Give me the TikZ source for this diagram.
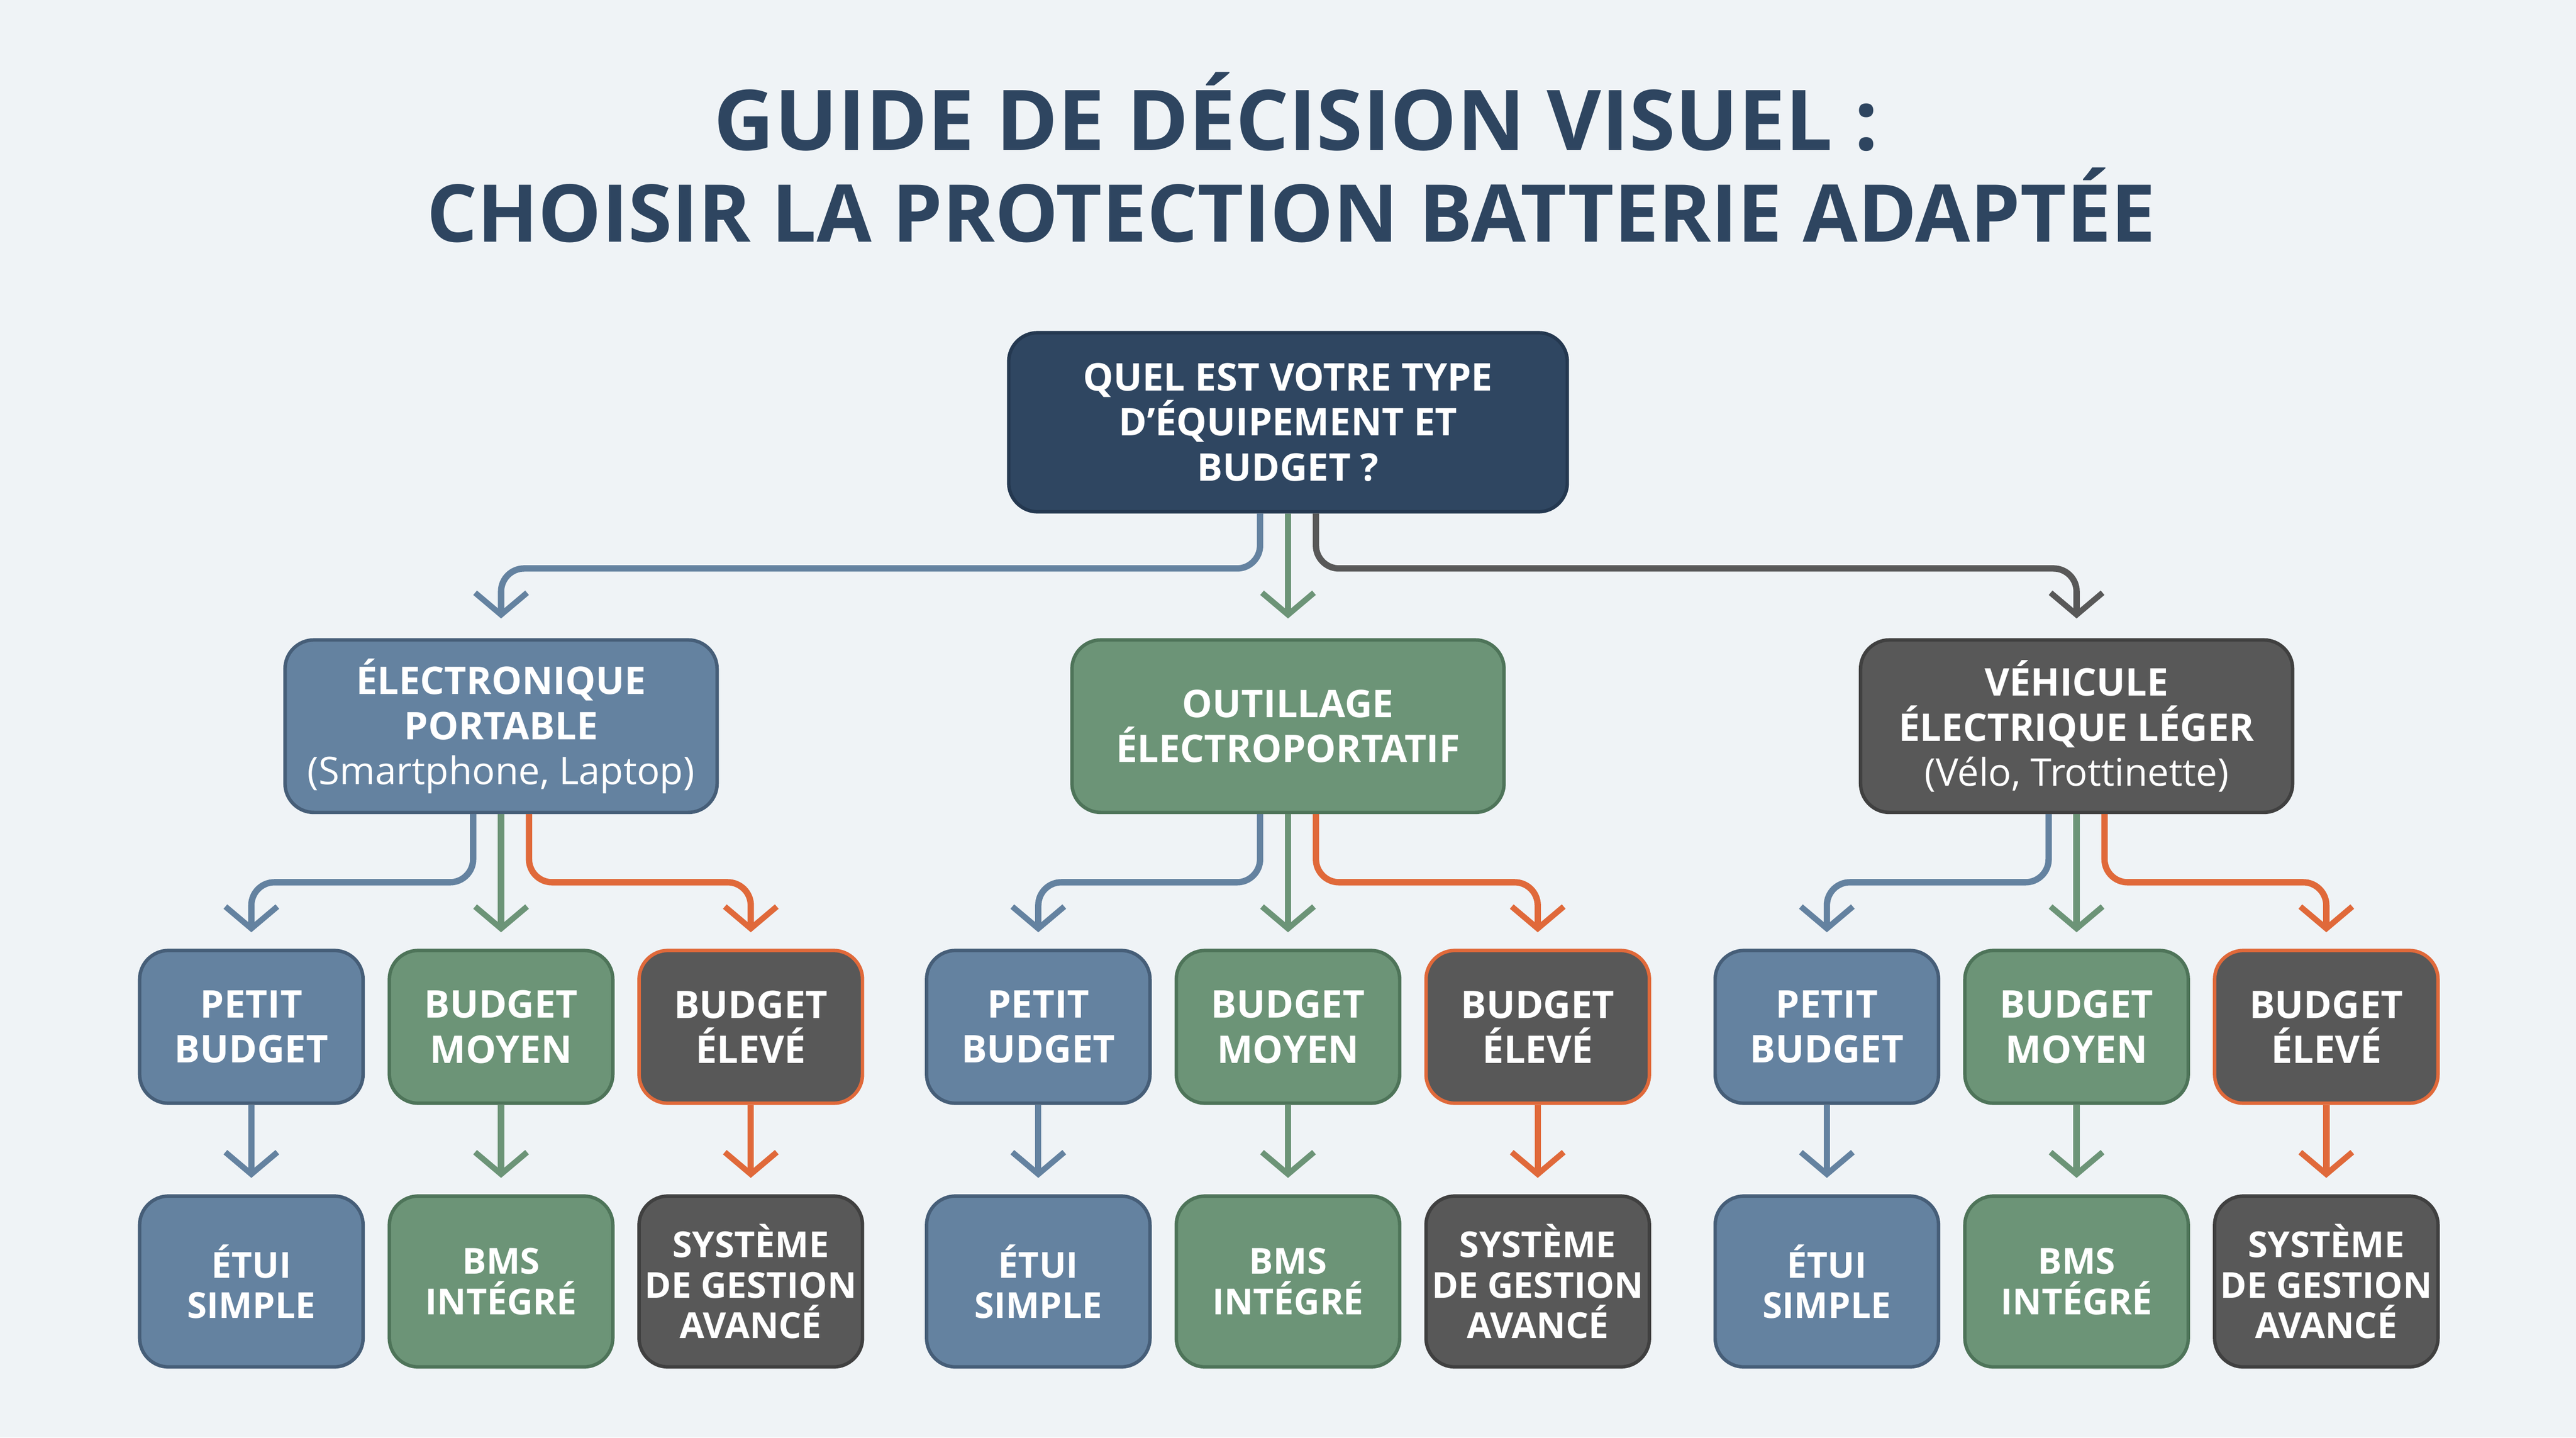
\documentclass[tikz,border=0pt]{standalone}
\usepackage{fontspec}
\setmainfont{Open Sans}
\usetikzlibrary{arrows.meta}
\definecolor{bg}{HTML}{EFF3F6}
\definecolor{navy}{HTML}{2F4661}
\definecolor{navyB}{HTML}{243850}
\definecolor{blu}{HTML}{6482A0}
\definecolor{bluB}{HTML}{465E78}
\definecolor{grn}{HTML}{6C9477}
\definecolor{grnB}{HTML}{4E7459}
\definecolor{gry}{HTML}{585858}
\definecolor{gryB}{HTML}{404040}
\definecolor{org}{HTML}{E0693A}
\definecolor{ttl}{HTML}{2E4560}
\begin{document}
\begin{tikzpicture}[x=0.1cm,y=-0.1cm,
 box/.style={draw,line width=6pt,rounded corners=50pt,text=white,align=center,
   font=\fontsize{66}{78}\selectfont\bfseries,inner sep=0pt},
 top/.style={box,fill=navy,draw=navyB,minimum width=340*0.1cm,minimum height=109*0.1cm},
 mid/.style={box,minimum width=263*0.1cm,minimum height=105*0.1cm},
 sm/.style={box,minimum width=136*0.1cm,minimum height=93*0.1cm},
 lo/.style={box,minimum width=136*0.1cm,minimum height=104*0.1cm,font=\fontsize{62}{70}\selectfont\bfseries},
 B/.style={fill=blu,draw=bluB}, G/.style={fill=grn,draw=grnB}, K/.style={fill=gry,draw=gryB},
 O/.style={fill=gry,draw=org},
 ar/.style={line width=11pt,rounded corners=40pt,-{Straight Barb[length=38pt,width=90pt,line width=10pt]}}
]
\fill[bg] (0,0) rectangle (1568,875);
\node[text=ttl,font=\fontsize{145}{150}\selectfont\bfseries] (t1) at (789,68) {GUIDE DE DÉCISION VISUEL :};
\node[text=ttl,font=\fontsize{138}{150}\selectfont\bfseries] (t2) at (786,125) {CHOISIR LA PROTECTION BATTERIE ADAPTÉE};
\node[top] (q) at (784,257) {QUEL EST VOTRE TYPE\\D’ÉQUIPEMENT ET\\BUDGET ?};
\node[mid,B] (a) at (305,442) {ÉLECTRONIQUE\\PORTABLE\\{\mdseries (Smartphone, Laptop)}};
\node[mid,G] (b) at (784,442) {OUTILLAGE\\ÉLECTROPORTATIF};
\node[mid,K] (c) at (1264,442) {VÉHICULE\\ÉLECTRIQUE LÉGER\\{\mdseries (Vélo, Trottinette)}};
\draw[ar,blu] ([xshift=-17*0.1cm]q.south) |- (305,346) -- ([yshift=12*0.1cm]a.north);
\draw[ar,grn] (q.south) -- ([yshift=12*0.1cm]b.north);
\draw[ar,gry] ([xshift=17*0.1cm]q.south) |- (1264,346) -- ([yshift=12*0.1cm]c.north);
\foreach \p/\x in {a/305,b/784,c/1264}{
 \node[sm,B] (\p1) at (\x-152,625) {PETIT\\BUDGET};
 \node[sm,G] (\p2) at (\x,625) {BUDGET\\MOYEN};
 \node[sm,O] (\p3) at (\x+152,625) {BUDGET\\ÉLEVÉ};
 \node[lo,B] (\p4) at (\x-152,780) {ÉTUI\\SIMPLE};
 \node[lo,G] (\p5) at (\x,780) {BMS\\INTÉGRÉ};
 \node[lo,K] (\p6) at (\x+152,780) {SYSTÈME\\DE GESTION\\AVANCÉ};
 \draw[ar,blu] ([xshift=-17*0.1cm]\p.south) |- (\x-152,537) -- ([yshift=10*0.1cm]\p1.north);
 \draw[ar,grn] (\p.south) -- ([yshift=10*0.1cm]\p2.north);
 \draw[ar,org] ([xshift=17*0.1cm]\p.south) |- (\x+152,537) -- ([yshift=10*0.1cm]\p3.north);
 \draw[ar,blu] (\p1.south) -- ([yshift=10*0.1cm]\p4.north);
 \draw[ar,grn] (\p2.south) -- ([yshift=10*0.1cm]\p5.north);
 \draw[ar,org] (\p3.south) -- ([yshift=10*0.1cm]\p6.north);
}
\end{tikzpicture}
\end{document}
